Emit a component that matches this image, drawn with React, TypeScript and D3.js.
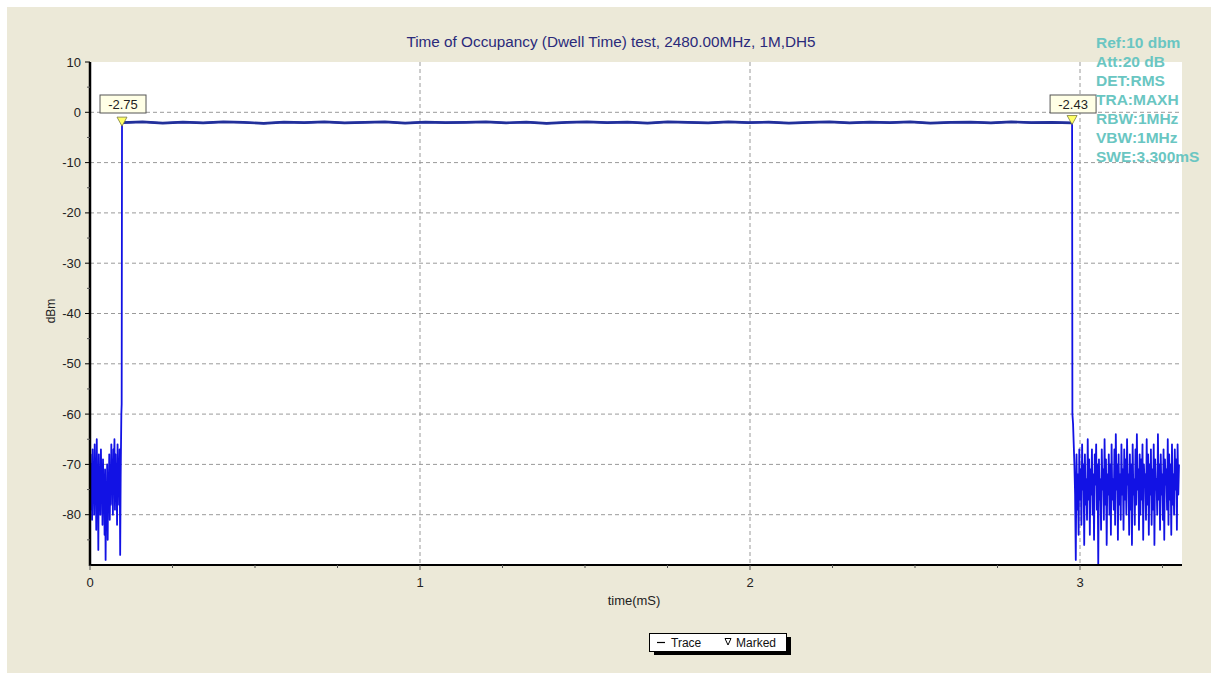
import * as d3 from "d3";

// trace pieces, values in dBm
const leftNoiseStart = 0;
const leftNoiseEnd = 0.093;
const leftNoise = [
  -74, -68, -79, -70, -81, -67, -76, -72, -80, -66,
  -75, -69, -83, -65, -77, -71, -87, -68, -78, -73,
  -80, -67, -74, -70, -82, -69, -76, -72, -84, -71,
  -89, -74, -79, -70, -85, -72, -77, -68, -81, -73,
  -78, -66, -75, -69, -80, -67, -73, -65, -79, -68,
  -76, -70, -82, -66, -74, -69, -78, -67, -88, -72,
];
const riseTimes = [0.095, 0.096, 0.097];
const riseValues = [-60, -58, -2.3];

const flatStart = 0.098;
const flatEnd = 2.975;
const flat = [
  -2.05, -1.9, -2.15, -1.95, -2.1, -1.9, -2.0, -2.2, -1.95, -2.05,
  -1.9, -2.1, -2.0, -1.9, -2.15, -1.95, -2.05, -2.0, -1.9, -2.1,
  -1.95, -2.2, -2.0, -1.9, -2.05, -1.95, -2.15, -1.9, -2.0, -2.1,
  -1.9, -2.05, -1.95, -2.15, -2.0, -1.9, -2.1, -1.95, -2.05, -1.9,
  -2.15, -2.0, -1.95, -2.1, -1.9, -2.05, -2.0, -2.1,
];
const fallTimes = [2.976, 2.977, 2.979, 2.981];
const fallValues = [-2.1, -60, -62, -66];

const rightNoiseStart = 2.983;
const rightNoiseEnd = 3.3;
const rightNoise = [
  -70, -76, -89, -68, -79, -72, -84, -67, -77, -71,
  -82, -66, -75, -70, -86, -68, -78, -73, -81, -65,
  -77, -69, -84, -71, -76, -67, -80, -72, -85, -68,
  -74, -66, -79, -70, -90, -69, -77, -73, -83, -67,
  -75, -71, -81, -65, -78, -69, -86, -72, -76, -68,
  -80, -70, -84, -66, -77, -73, -79, -67, -82, -64,
  -75, -70, -85, -68, -78, -72, -81, -66, -76, -71,
  -83, -67, -77, -69, -80, -65, -74, -72, -84, -68,
  -79, -70, -86, -66, -76, -73, -82, -67, -78, -64,
  -75, -71, -83, -68, -80, -69, -77, -66, -85, -70,
  -74, -72, -81, -65, -78, -68, -84, -70, -76, -67,
  -82, -71, -79, -66, -86, -69, -75, -73, -80, -64,
  -77, -70, -83, -68, -76, -72, -81, -67, -85, -69,
  -74, -71, -79, -65, -82, -68, -77, -70, -84, -66,
  -78, -72, -80, -67, -75, -69, -83, -66, -76, -70,
];

const markerTimes = [0.097, 2.976];
const markerValues = [-2.75, -2.43];

const infoLines = ["Ref:10 dbm", "Att:20 dB", "DET:RMS", "TRA:MAXH", "RBW:1MHz", "VBW:1MHz", "SWE:3.300mS"];
const xMajor = [0, 1, 2, 3];
const yMajor = [10, 0, -10, -20, -30, -40, -50, -60, -70, -80];

const W = 1216;
const H = 680;
const left = 90;
const right = 1182;
const top = 62;
const bottom = 565;
const font = "'Liberation Sans', Arial, sans-serif";

function spread(vals: number[], t0: number, t1: number) {
  const step = (t1 - t0) / (vals.length - 1);
  return vals.map((v, i) => [t0 + i * step, v] as [number, number]);
}

export default function App() {
  const x = d3.scaleLinear().domain([0, 3.3]).range([left, 1179]);
  const y = d3.scaleLinear().domain([-90, 10]).range([bottom, top]);

  const flatPts = spread(flat, flatStart, flatEnd);
  const pts: [number, number][] = [
    ...spread(leftNoise, leftNoiseStart, leftNoiseEnd),
    ...riseTimes.map((t, i) => [t, riseValues[i]] as [number, number]),
    ...flatPts,
    ...fallTimes.map((t, i) => [t, fallValues[i]] as [number, number]),
    ...spread(rightNoise, rightNoiseStart, rightNoiseEnd),
  ];
  const line = d3.line<[number, number]>().x(d => x(d[0])).y(d => y(Math.max(-90, d[1])));

  const xMinor = d3.range(0, 3.3, 0.25);
  const yMinor = d3.range(-85, 10, 5);

  return (
    <div style={{ position: "absolute", left: 0, top: 0, width: W, height: H, background: "#fff" }}>
      <svg width={W} height={H} style={{ display: "block" }}>
        <rect x={7} y={7} width={1204} height={666} fill="#ECE9D8" />
        <rect x={left} y={top} width={right - left} height={bottom - top} fill="#fff" />

        {/* grid */}
        {yMajor.filter(v => v < 10).map(v => (
          <line key={"gy" + v} x1={left} x2={right} y1={y(v)} y2={y(v)} stroke="#9a9a9a" strokeDasharray="4,3" />
        ))}
        {xMajor.filter(v => v > 0).map(v => (
          <line key={"gx" + v} x1={x(v)} x2={x(v)} y1={top} y2={bottom} stroke="#9a9a9a" strokeDasharray="4,3" />
        ))}

        {/* trace */}
        <path d={line(pts) ?? ""} fill="none" stroke="#1212e4" strokeWidth={1.8} strokeLinejoin="round" />
        <path d={line(flatPts) ?? ""} fill="none" stroke="#22309a" strokeWidth={2.6} />

        {/* axes */}
        <line x1={left} x2={left} y1={top} y2={bottom + 1} stroke="#000" strokeWidth={2.5} />
        <line x1={left - 1} x2={right} y1={bottom} y2={bottom} stroke="#000" strokeWidth={2} />
        {yMajor.map(v => (
          <g key={"yt" + v}>
            <line x1={left - 5} x2={left} y1={y(v)} y2={y(v)} stroke="#000" />
            <text x={left - 9} y={y(v)} dy="0.35em" textAnchor="end" fontFamily={font} fontSize={13} fill="#222">{v}</text>
          </g>
        ))}
        {yMinor.filter(v => !yMajor.includes(v)).map(v => (
          <line key={"ym" + v} x1={left - 3} x2={left} y1={y(v)} y2={y(v)} stroke="#555" />
        ))}
        {xMinor.map(v => (
          <line key={"xm" + v} x1={x(v)} x2={x(v)} y1={bottom} y2={bottom + (Number.isInteger(v) ? 5 : 3)} stroke="#555" />
        ))}
        {xMajor.map(v => (
          <text key={"xt" + v} x={x(v)} y={bottom + 22} textAnchor="middle" fontFamily={font} fontSize={13} fill="#222">{v}</text>
        ))}
        <text x={634} y={605} textAnchor="middle" fontFamily={font} fontSize={13} fill="#222">time(mS)</text>
        <text transform={`translate(55,311) rotate(-90)`} textAnchor="middle" fontFamily={font} fontSize={12} fill="#222">dBm</text>

        {/* title */}
        <text x={611} y={47} textAnchor="middle" fontFamily={font} fontSize={15.3} fill="#2a2a7a">
          Time of Occupancy (Dwell Time) test, 2480.00MHz, 1M,DH5
        </text>

        {/* markers */}
        {markerTimes.map((t, i) => {
          const mx = x(t);
          const my = y(markerValues[i]);
          return (
            <g key={"mk" + i}>
              <path d={`M${mx - 5},${my - 9}L${mx + 5},${my - 9}L${mx},${my}Z`} fill="#ffff66" stroke="#7a7a40" strokeWidth={0.8} />
              <rect x={mx - 22} y={95} width={46} height={18} fill="#ffffe6" stroke="#555" strokeWidth={1} />
              <text x={mx + 1} y={108.5} textAnchor="middle" fontFamily={font} fontSize={13} fill="#222">{markerValues[i].toFixed(2)}</text>
            </g>
          );
        })}

        {/* instrument settings */}
        {infoLines.map((s, i) => (
          <text key={s} x={1096} y={47.5 + i * 19} fontFamily={font} fontSize={15.5} fontWeight="bold" fill="#6ac6c2">{s}</text>
        ))}

        {/* legend */}
        <rect x={654} y={637} width={137} height={18} fill="#000" />
        <rect x={649.5} y={633.5} width={137} height={18} fill="#fff" stroke="#000" strokeWidth={1} />
        <line x1={657} x2={665} y1={642.5} y2={642.5} stroke="#000" strokeWidth={1.2} />
        <text x={671} y={647} fontFamily={font} fontSize={12} fill="#111">Trace</text>
        <path d="M725,638.5L731,638.5L728,645Z" fill="none" stroke="#000" strokeWidth={1} />
        <text x={736} y={647} fontFamily={font} fontSize={12} fill="#111">Marked</text>
      </svg>
    </div>
  );
}
